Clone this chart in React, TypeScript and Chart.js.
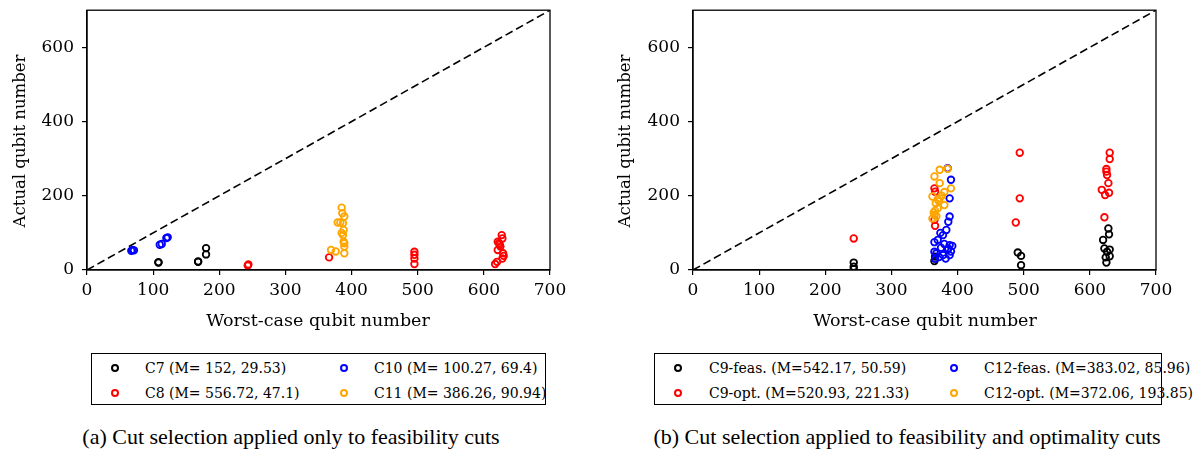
import React, { useEffect, useRef } from 'react';
import { Chart, registerables } from 'chart.js';
Chart.register(...registerables);

// ---------- shared axes ----------
const xTicks = [0, 100, 200, 300, 400, 500, 600, 700];
const yTicks = [0, 200, 400, 600];
const diagX = [0, 700];
const diagY = [0, 700];

// ---------- panel (a) ----------
const c7X = [108, 108, 168, 168, 180, 180];
const c7Y = [21, 20, 22, 23, 42, 59];
const c8X = [243, 244, 366, 495, 495, 495, 495, 617, 620, 621, 621, 623, 625, 627, 628, 629, 630, 628, 624];
const c8Y = [12, 15, 34, 49, 41, 31, 16, 16, 22, 76, 54, 72, 63, 94, 31, 45, 38, 85, 68];
const c10X = [67, 69, 71, 110, 113, 120, 122];
const c10Y = [52, 54, 53, 68, 70, 86, 88];
const c11X = [369, 376, 379, 383, 385, 387, 388, 389, 389, 389, 388, 387, 389, 386, 385];
const c11Y = [54, 50, 128, 128, 100, 94, 76, 63, 45, 72, 108, 126, 144, 153, 168];

// ---------- panel (b) ----------
const c9fX = [243, 243, 243, 491, 496, 496, 620, 622, 624, 625, 626, 628, 629, 630, 630, 365, 366];
const c9fY = [20, 9, 2, 47, 38, 13, 81, 58, 34, 20, 49, 112, 96, 55, 37, 24, 36];
const c9oX = [243, 365, 366, 365, 366, 488, 494, 494, 618, 622, 623, 625, 625, 626, 628, 629, 630, 630];
const c9oY = [85, 220, 211, 135, 119, 128, 193, 316, 216, 142, 202, 272, 265, 256, 234, 208, 299, 316];
const c12fX = [385, 390, 388, 388, 386, 383, 378, 370, 365, 388, 386, 365, 378, 388, 382, 372, 368, 375, 380, 385, 390, 392, 366, 374];
const c12fY = [274, 243, 193, 144, 130, 108, 94, 81, 75, 67, 58, 49, 40, 40, 31, 35, 45, 60, 70, 55, 50, 65, 30, 100];
const c12oX = [373, 385, 365, 373, 390, 362, 373, 367, 380, 370, 365, 362, 364, 366, 368, 372, 376, 380, 370];
const c12oY = [270, 273, 252, 234, 220, 198, 193, 180, 175, 166, 148, 139, 155, 160, 145, 185, 200, 210, 190];

const legendA = ['C7 (M= 152, 29.53)', 'C8 (M= 556.72, 47.1)', 'C10 (M= 100.27, 69.4)', 'C11 (M= 386.26, 90.94)'];
const legendB = ['C9-feas. (M=542.17, 50.59)', 'C9-opt. (M=520.93, 221.33)', 'C12-feas. (M=383.02, 85.96)', 'C12-opt. (M=372.06, 193.85)'];
const colors = ['#000000', '#ff0000', '#0000ff', '#ffa500'];
const captionA = '(a)  Cut selection applied only to feasibility cuts';
const captionB = '(b)  Cut selection applied to feasibility and optimality cuts';
const xTitle = 'Worst-case qubit number';
const yTitle = 'Actual qubit number';

const SERIF = '"DejaVu Serif", serif';

const zip = (xs: number[], ys: number[]) => xs.map((x, i) => ({ x, y: ys[i] }));

const framePlugin = {
  id: 'frame',
  afterDraw(chart: any) {
    const { ctx, chartArea } = chart;
    ctx.save();
    ctx.strokeStyle = '#000';
    ctx.lineWidth = 1.3;
    ctx.strokeRect(chartArea.left, chartArea.top, chartArea.right - chartArea.left, chartArea.bottom - chartArea.top);
    ctx.restore();
  },
};

type Series = { xs: number[]; ys: number[]; color: string };

function Panel({ series, left }: { series: Series[]; left: number }) {
  const ref = useRef<HTMLCanvasElement | null>(null);
  useEffect(() => {
    if (!ref.current) return;
    const datasets: any[] = series.map((s, i) => ({
      type: 'scatter',
      data: zip(s.xs, s.ys),
      borderColor: s.color,
      backgroundColor: 'rgba(0,0,0,0)',
      pointRadius: 3.3,
      pointBorderWidth: 1.8,
      pointHoverRadius: 3.3,
      order: series.length - i,
    }));
    datasets.push({
      type: 'line',
      data: zip(diagX, diagY),
      borderColor: '#000',
      borderWidth: 1.6,
      borderDash: [8, 4],
      pointRadius: 0,
      fill: false,
      order: 10,
    });
    const tickFont = { family: SERIF, size: 17 };
    const chart = new Chart(ref.current, {
      type: 'scatter',
      data: { datasets },
      options: {
        animation: false,
        responsive: false,
        maintainAspectRatio: false,
        layout: { padding: { top: 11, right: 30, left: 0, bottom: 0 } },
        plugins: { legend: { display: false }, tooltip: { enabled: false } },
        scales: {
          x: {
            type: 'linear',
            min: 0,
            max: 700,
            afterBuildTicks: (s: any) => { s.ticks = xTicks.map((v) => ({ value: v })); },
            afterFit: (s: any) => { s.height = 40; },
            grid: { display: true, drawOnChartArea: false, drawTicks: true, tickLength: 5, color: '#000', lineWidth: 1.2 },
            border: { display: true, color: '#000', width: 1.3 },
            ticks: { color: '#000', font: tickFont, padding: 5, maxRotation: 0 },
          },
          y: {
            type: 'linear',
            min: 0,
            max: 700,
            afterBuildTicks: (s: any) => { s.ticks = yTicks.map((v) => ({ value: v })); },
            afterFit: (s: any) => { s.width = 87; },
            grid: { display: true, drawOnChartArea: false, drawTicks: true, tickLength: 5, color: '#000', lineWidth: 1.2 },
            border: { display: true, color: '#000', width: 1.3 },
            ticks: { color: '#000', font: tickFont, padding: 8 },
          },
        },
      },
      plugins: [framePlugin],
    } as any);
    return () => chart.destroy();
  }, []);
  return (
    <canvas
      ref={ref}
      width={580}
      height={318}
      style={{ position: 'absolute', left, top: -8, width: 580, height: 318 }}
    />
  );
}

function Legend({ labels, left, width, markerX, textX }: { labels: string[]; left: number; width: number; markerX: number[]; textX: number[] }) {
  const rows = [14, 39];
  const items: any[] = [];
  labels.forEach((lab, i) => {
    const col = Math.floor(i / 2);
    const row = i % 2;
    items.push(
      <div key={'m' + i} style={{ position: 'absolute', left: markerX[col] - 4, top: rows[row] - 4, width: 8, height: 8, boxSizing: 'border-box', borderRadius: '50%', border: `2px solid ${colors[i]}` }} />
    );
    items.push(
      <div key={'t' + i} style={{ position: 'absolute', left: textX[col], top: rows[row] - 10, height: 20, lineHeight: '20px', fontFamily: SERIF, fontSize: 14, whiteSpace: 'nowrap', color: '#000' }}>{lab}</div>
    );
  });
  return (
    <div style={{ position: 'absolute', left, top: 353, width, height: 52, boxSizing: 'border-box', border: '1.5px solid #000' }}>
      {items}
    </div>
  );
}

export default function App() {
  const seriesA: Series[] = [
    { xs: c7X, ys: c7Y, color: colors[0] },
    { xs: c8X, ys: c8Y, color: colors[1] },
    { xs: c10X, ys: c10Y, color: colors[2] },
    { xs: c11X, ys: c11Y, color: colors[3] },
  ];
  const seriesB: Series[] = [
    { xs: c9fX, ys: c9fY, color: colors[0] },
    { xs: c9oX, ys: c9oY, color: colors[1] },
    { xs: c12fX, ys: c12fY, color: colors[2] },
    { xs: c12oX, ys: c12oY, color: colors[3] },
  ];
  const xTitleStyle: any = { position: 'absolute', top: 308, width: 400, textAlign: 'center', fontFamily: SERIF, fontSize: 17.5, lineHeight: '24px', color: '#000' };
  const yTitleStyle: any = { position: 'absolute', top: 129, width: 240, height: 24, lineHeight: '24px', textAlign: 'center', fontFamily: SERIF, fontSize: 16.5, color: '#000', transform: 'rotate(-90deg)', transformOrigin: '50% 50%' };
  const capStyle: any = { position: 'absolute', top: 423, width: 700, textAlign: 'center', fontFamily: '"Liberation Serif", serif', fontSize: 22, lineHeight: '28px', color: '#000', whiteSpace: 'nowrap' };
  return (
    <div style={{ position: 'absolute', left: 0, top: 0, width: 1202, height: 461, background: '#fff', overflow: 'hidden' }}>
      <Panel series={seriesA} left={0} />
      <Panel series={seriesB} left={606} />
      <div style={{ ...xTitleStyle, left: 318 - 200 }}>{xTitle}</div>
      <div style={{ ...xTitleStyle, left: 925 - 200 }}>{xTitle}</div>
      <div style={{ ...yTitleStyle, left: 20 - 120 }}>{yTitle}</div>
      <div style={{ ...yTitleStyle, left: 625 - 120 }}>{yTitle}</div>
      <Legend labels={legendA} left={91} width={455} markerX={[23, 252]} textX={[53, 282]} />
      <Legend labels={legendB} left={654} width={508} markerX={[23, 299]} textX={[54, 329]} />
      <div style={{ ...capStyle, left: 291 - 350 }}>{captionA}</div>
      <div style={{ ...capStyle, left: 907 - 350 }}>{captionB}</div>
    </div>
  );
}
